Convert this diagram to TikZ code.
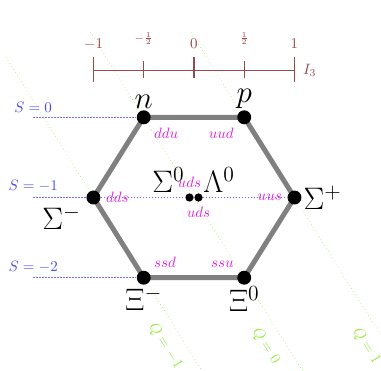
\documentclass[tikz,border=0pt]{standalone}
\usepackage{amsmath}
\usepackage{tikz}
\usetikzlibrary{positioning,calc,backgrounds}
\definecolor{axisred}{RGB}{150,75,75}
\definecolor{sblue}{RGB}{75,75,235}
\definecolor{slineblue}{RGB}{110,110,255}
\definecolor{qgreen}{RGB}{150,235,70}
\definecolor{quarkpink}{RGB}{225,30,225}
\tikzset{
	vertex/.style={circle, fill=black, inner sep=0pt, minimum size=9.3pt}, % the big dots at the corners
	smallvertex/.style={circle, fill=black, inner sep=0pt, minimum size=5.5pt},
	particle/.style={inner sep=1pt, font=\huge},
	quark/.style={text=quarkpink, font=\normalsize}
}

\begin{document}
\begin{tikzpicture}[x=2.357cm, y=1.881cm,
            hexedge/.style={line width=3.3pt, black!50, line join=round},
            axis/.style={axisred, thick},
            ticklabel/.style={text=axisred},
            sline/.style={slineblue, dash pattern=on 1pt off 1pt, line width=0.9pt},
            slabel/.style={text=sblue, above},
            qline/.style={qgreen, dotted},
            qlabel/.style={text=qgreen, sloped, below=4pt, pos=0.87}
        ]
            \useasboundingbox (-1.930,-3.1625) rectangle (1.861,1.4625);
            % isospin axis
            \coordinate (ileft) at (-1,0.5875);
            \coordinate (iright) at (1,0.5875);
            \draw[axis] (ileft) -- (iright) node[right=2pt, text=axisred] (ilab) {$I_3$};
            \draw[axis] (-1,0.4375) -- (-1,0.75);
            \draw[axis] (-0.5,0.4875) -- (-0.5,0.7);
            \draw[axis] (0,0.4875) -- (0,0.75);
            \draw[axis] (0.5,0.4875) -- (0.5,0.7);
            \draw[axis] (1,0.4375) -- (1,0.75);
            \node[ticklabel] (tma) at (-1,0.9125) {$-1$};
            \node[ticklabel] (tmh) at (-0.5,0.98) {$\scriptstyle -\frac{1}{2}$};
            \node[ticklabel] (tz) at (0,0.9125) {$0$};
            \node[ticklabel] (tph) at (0.5,0.98) {$\scriptstyle \frac{1}{2}$};
            \node[ticklabel] (tpa) at (1,0.9125) {$1$};
            % the octet
            \node[vertex] (n) at (-0.5,0) {};
            \node[vertex] (p) at (0.5,0) {};
            \node[vertex] (sm) at (-1,-1) {};
            \node[vertex] (sp) at (1,-1) {};
            \node[vertex] (xm) at (-0.5,-2) {};
            \node[vertex] (xz) at (0.5,-2) {};
            \node[smallvertex] (sz) at (-0.045,-1) {};
            \node[smallvertex] (lz) at (0.045,-1) {};
            % strangeness lines and labels
            \coordinate (szero) at (-1.6,0);
            \coordinate (sone) at (-1.6,-1);
            \coordinate (stwo) at (-1.6,-2);
            \draw[sline] (szero) -- (n);
            \draw[sline] (sone) -- (sm);
            \draw[sline] (sm) -- (sz);
            \draw[sline] (lz) -- (sp);
            \draw[sline] (stwo) -- (xm);
            \node[slabel] (szerolab) at (szero) {$S=0$};
            \node[slabel] (sonelab) at (sone) {$S=-1$};
            \node[slabel] (stwolab) at (stwo) {$S=-2$};
            \begin{scope}[on background layer]
                % charge lines
                \coordinate (qmtop) at (-1.871,0.75);
                \coordinate (qmbot) at (0.15,-3.3);
                \coordinate (qztop) at (-1.031,1.0625);
                \coordinate (qzbot) at (1.15,-3.3);
                \coordinate (qptop) at (-0.031,1.0625);
                \coordinate (qpbot) at (2.15,-3.3);
                \draw[qline] (qmtop) -- (qmbot) node[qlabel, pos=0.86] (qmlab) {$Q=-1$};
                \draw[qline] (qztop) -- (qzbot) node[qlabel] (qzlab) {$Q=0$};
                \draw[qline] (qptop) -- (qpbot) node[qlabel] (qplab) {$Q=1$};
                \draw[hexedge] (n.center) -- (p.center) -- (sp.center) -- (xz.center)
                    -- (xm.center) -- (sm.center) -- cycle;
            \end{scope}
            \node[particle, above=0pt of n] (nlab) {$n$};
            \node[particle, above=0pt of p] (plab) {$p$};
            \node[particle, below left=1pt and 4pt of sm] (smlab) {$\Sigma^-$};
            \node[particle, right=0pt of sp] (splab) {$\Sigma^+$};
            \node[particle, above left=0pt of sz] (szlab) {$\Sigma^0$};
            \node[particle, above right=0pt of lz] (lzlab) {$\Lambda^0$};
            \node[particle, below=0pt of xm] (xmlab) {$\Xi^-$};
            \node[particle, below=0pt of xz] (xzlab) {$\Xi^0$};
            \node[quark, below right=0pt of n] (ddu) {$ddu$};
            \node[quark, below left=0pt of p] (uud) {$uud$};
            \node[quark, right=0pt of sm] (dds) {$dds$};
            \node[quark, left=0pt of sp] (uus) {$uus$};
            \node[quark, above=0pt of sz] (udsa) {$uds$};
            \node[quark, below=0pt of lz] (udsb) {$uds$};
            \node[quark, above right=0pt of xm] (ssd) {$ssd$};
            \node[quark, above left=0pt of xz] (ssu) {$ssu$};
        \end{tikzpicture}
\end{document}
